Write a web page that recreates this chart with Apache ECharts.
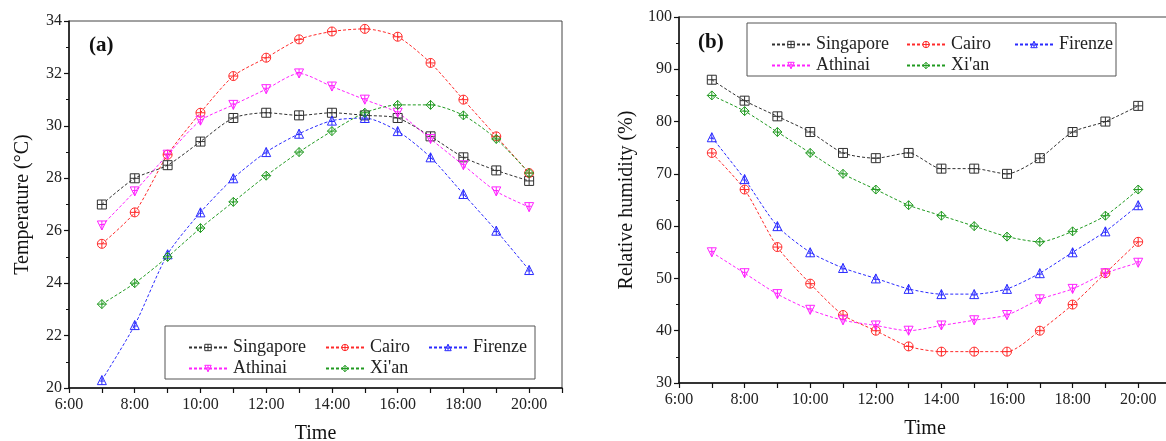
<!DOCTYPE html>
<html>
<head>
<meta charset="utf-8">
<script src="https://cdn.jsdelivr.net/npm/echarts@6/dist/echarts.min.js"></script>
<style>
  html, body { margin: 0; padding: 0; background: #fff; }
  #container { width: 1166px; height: 441px; }
</style>
</head>
<body>
<div id="container"></div>
<script>
var hours = [7, 8, 9, 10, 11, 12, 13, 14, 15, 16, 17, 18, 19, 20];
var cities = ['Singapore', 'Cairo', 'Firenze', 'Athinai', "Xi'an"];

// (a) temperature, °C
var tempSingapore = [27.0, 28.0, 28.5, 29.4, 30.3, 30.5, 30.4, 30.5, 30.4, 30.3, 29.6, 28.8, 28.3, 27.9];
var tempCairo     = [25.5, 26.7, 28.9, 30.5, 31.9, 32.6, 33.3, 33.6, 33.7, 33.4, 32.4, 31.0, 29.6, 28.2];
var tempFirenze   = [20.3, 22.4, 25.1, 26.7, 28.0, 29.0, 29.7, 30.2, 30.3, 29.8, 28.8, 27.4, 26.0, 24.5];
var tempAthinai   = [26.2, 27.5, 28.9, 30.2, 30.8, 31.4, 32.0, 31.5, 31.0, 30.5, 29.5, 28.5, 27.5, 26.9];
var tempXian      = [23.2, 24.0, 25.0, 26.1, 27.1, 28.1, 29.0, 29.8, 30.5, 30.8, 30.8, 30.4, 29.5, 28.2];

// (b) relative humidity, %
var rhSingapore = [88, 84, 81, 78, 74, 73, 74, 71, 71, 70, 73, 78, 80, 83];
var rhCairo     = [74, 67, 56, 49, 43, 40, 37, 36, 36, 36, 40, 45, 51, 57];
var rhFirenze   = [77, 69, 60, 55, 52, 50, 48, 47, 47, 48, 51, 55, 59, 64];
var rhAthinai   = [55, 51, 47, 44, 42, 41, 40, 41, 42, 43, 46, 48, 51, 53];
var rhXian      = [85, 82, 78, 74, 70, 67, 64, 62, 60, 58, 57, 59, 62, 67];

var colors = {
    'Singapore': '#303030',
    'Cairo': '#ff2a2a',
    'Firenze': '#2a2aff',
    'Athinai': '#ff22ff',
    "Xi'an": '#209a20'
};
var symbols = {
    'Singapore': 'path://M0,0L10,0L10,10L0,10Z M5,0L5,10 M0,5L10,5',
    'Cairo': 'path://M0,5A5,5,0,1,1,10,5A5,5,0,1,1,0,5Z M5,0L5,10 M0,5L10,5',
    'Firenze': 'path://M5,0L10,10L0,10Z M5,0L5,10 M2.5,6L7.5,6',
    'Athinai': 'path://M0,0L10,0L5,10Z M5,0L5,10 M2.5,4L7.5,4',
    "Xi'an": 'path://M5,0L10,5L5,10L0,5Z M5,0L5,10 M0,5L10,5'
};

var serif = 'Liberation Serif';

function pairs(vals) {
    return hours.map(function (h, i) { return [h, vals[i]]; });
}

function makeSeries(name, vals, idx) {
    return {
        name: name,
        type: 'line',
        xAxisIndex: idx,
        yAxisIndex: idx,
        data: pairs(vals),
        smooth: 0.25,
        symbol: symbols[name],
        symbolSize: 9,
        showAllSymbol: true,
        lineStyle: { color: colors[name], width: 1, type: [3, 2] },
        itemStyle: { color: 'rgba(255,255,255,0)', borderColor: colors[name], borderWidth: 1 },
        emphasis: { disabled: true },
        z: 3
    };
}

function xAxis(idx) {
    return {
        type: 'value',
        gridIndex: idx,
        min: 6,
        max: 21,
        interval: 1,
        name: 'Time',
        nameLocation: 'middle',
        nameGap: 36,
        nameTextStyle: { fontFamily: serif, fontSize: 20, color: '#111' },
        axisLine: { lineStyle: { color: '#111', width: 1.5 } },
        axisTick: { inside: false, length: 5, lineStyle: { color: '#111', width: 1.2 } },
        axisLabel: {
            fontFamily: serif, fontSize: 16, color: '#222', margin: 9,
            formatter: function (v) { return v % 2 === 0 && v < 21 ? v + ':00' : ''; }
        },
        splitLine: { show: false }
    };
}

function yAxis(idx, min, max, interval, name, gap) {
    return {
        type: 'value',
        gridIndex: idx,
        min: min,
        max: max,
        interval: interval,
        name: name,
        nameLocation: 'middle',
        nameGap: gap,
        nameTextStyle: { fontFamily: serif, fontSize: 20, color: '#111' },
        axisLine: { show: true, lineStyle: { color: '#111', width: 1.5 } },
        axisTick: { inside: false, length: 5, lineStyle: { color: '#111', width: 1.2 } },
        minorTick: { show: true, splitNumber: 2, length: 3, lineStyle: { color: '#111', width: 1 } },
        axisLabel: { fontFamily: serif, fontSize: 16, color: '#222', margin: 7 },
        splitLine: { show: false },
        minorSplitLine: { show: false }
    };
}

function legendCol(names, left, top) {
    return {
        data: names.map(function (n) {
            return { name: n, itemStyle: { color: '#fff', borderColor: colors[n], borderWidth: 1 } };
        }),
        orient: 'vertical',
        left: left,
        top: top,
        itemWidth: 38,
        itemHeight: 8,
        itemGap: 0,
        selectedMode: false,
        textStyle: { fontFamily: serif, fontSize: 18, color: '#222', lineHeight: 21, padding: [0, 0, 0, 1] },
        padding: 0,
        z: 6
    };
}

var series = [
    makeSeries('Singapore', tempSingapore, 0),
    makeSeries('Cairo', tempCairo, 0),
    makeSeries('Firenze', tempFirenze, 0),
    makeSeries('Athinai', tempAthinai, 0),
    makeSeries("Xi'an", tempXian, 0),
    makeSeries('Singapore', rhSingapore, 1),
    makeSeries('Cairo', rhCairo, 1),
    makeSeries('Firenze', rhFirenze, 1),
    makeSeries('Athinai', rhAthinai, 1),
    makeSeries("Xi'an", rhXian, 1)
];

var myChart = echarts.init(document.getElementById('container'));
var option = {
    backgroundColor: '#fff',
    animation: false,
    title: [
        { text: '(a)', left: 84, top: 30, textStyle: { fontFamily: serif, fontSize: 21, fontWeight: 'bold', color: '#111' } },
        { text: '(b)', left: 693, top: 27, textStyle: { fontFamily: serif, fontSize: 21, fontWeight: 'bold', color: '#111' } }
    ],
    grid: [
        { left: 69, top: 21, right: 604, bottom: 53, show: true, borderColor: '#444', borderWidth: 1, outerBoundsMode: 'none' },
        { left: 679, top: 17, right: -5, bottom: 58, show: true, borderColor: '#444', borderWidth: 1, outerBoundsMode: 'none' }
    ],
    xAxis: [xAxis(0), xAxis(1)],
    yAxis: [
        yAxis(0, 20, 34, 2, 'Temperature (°C)', 36),
        yAxis(1, 30, 100, 10, 'Relative humidity (%)', 42)
    ],
    legend: [
        legendCol(['Singapore', 'Athinai'], 188, 337),
        legendCol(['Cairo', "Xi'an"], 325, 337),
        legendCol(['Firenze'], 428, 337),
        legendCol(['Singapore', 'Athinai'], 771, 34),
        legendCol(['Cairo', "Xi'an"], 906, 34),
        legendCol(['Firenze'], 1014, 34)
    ],
    graphic: [
        { type: 'rect', shape: { x: 165, y: 326, width: 370, height: 53 }, style: { fill: '#fff', stroke: '#555', lineWidth: 1 }, z: 4 },
        { type: 'rect', shape: { x: 747, y: 23, width: 369, height: 53 }, style: { fill: '#fff', stroke: '#555', lineWidth: 1 }, z: 4 }
    ],
    series: series
};
myChart.setOption(option);
</script>
</body>
</html>
